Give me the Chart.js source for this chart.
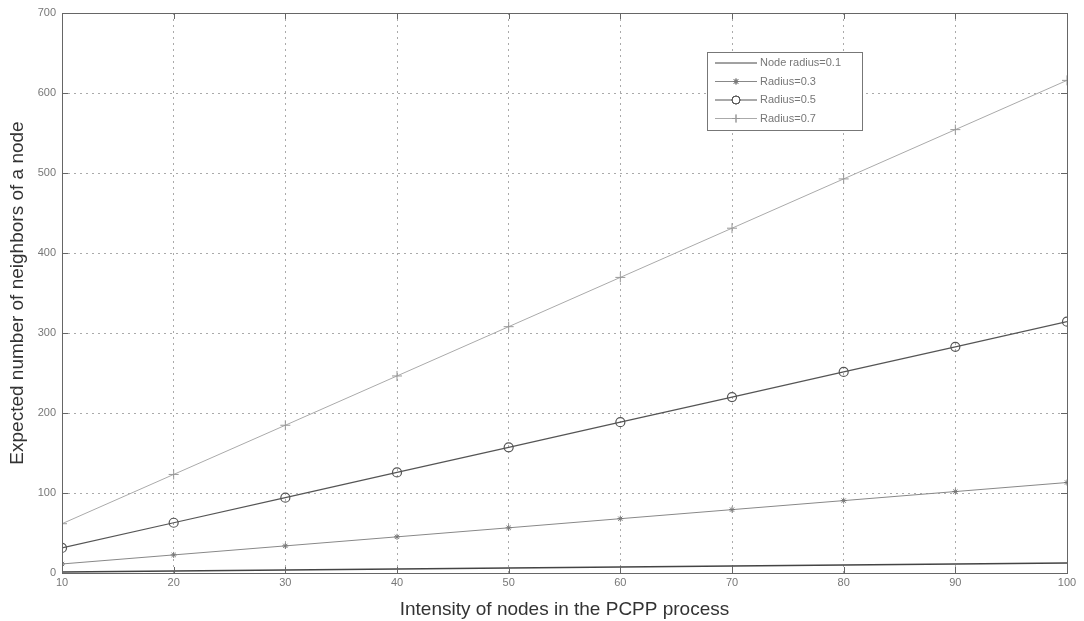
<!DOCTYPE html>
<html><head><meta charset="utf-8">
<script src="https://cdn.jsdelivr.net/npm/chart.js@4.4.1/dist/chart.umd.min.js"></script>
<style>html,body{margin:0;padding:0;background:#fff}#wrap{width:1084px;height:621px}</style>
</head><body><div id="wrap"><canvas id="c" width="1084" height="621"></canvas></div>
<script>
const intensity = [10, 20, 30, 40, 50, 60, 70, 80, 90, 100];
const radius01 = [1.3, 2.5, 3.8, 5.0, 6.3, 7.5, 8.8, 10.1, 11.3, 12.6];
const radius03 = [11.3, 22.6, 33.9, 45.2, 56.5, 67.9, 79.2, 90.5, 101.8, 113.1];
const radius05 = [31.4, 62.8, 94.2, 125.7, 157.1, 188.5, 219.9, 251.3, 282.7, 314.2];
const radius07 = [61.6, 123.2, 184.7, 246.3, 307.9, 369.5, 431.0, 492.6, 554.2, 615.8];
const seriesLabels = ['Node radius=0.1', 'Radius=0.3', 'Radius=0.5', 'Radius=0.7'];
const yTicks = [0, 100, 200, 300, 400, 500, 600, 700];
const xTitle = 'Intensity of nodes in the PCPP process';
const yTitle = 'Expected number of neighbors of a node';

const toXY = arr => arr.map((v, i) => ({x: intensity[i], y: v}));

const boxPlugin = {
  id: 'box',
  afterDraw(chart) {
    const {ctx, chartArea: a} = chart;
    ctx.save();
    ctx.strokeStyle = '#666';
    ctx.lineWidth = 1;
    ctx.strokeRect(Math.round(a.left) + 0.5, Math.round(a.top) + 0.5, Math.round(a.right - a.left), Math.round(a.bottom - a.top));
    const xs = chart.scales.x, ys = chart.scales.y;
    ctx.beginPath();
    intensity.forEach(v => {
      const px = Math.round(xs.getPixelForValue(v)) + 0.5;
      ctx.moveTo(px, a.bottom); ctx.lineTo(px, a.bottom - 6);
      ctx.moveTo(px, a.top); ctx.lineTo(px, a.top + 6);
    });
    yTicks.forEach(v => {
      const py = Math.round(ys.getPixelForValue(v)) + 0.5;
      ctx.moveTo(a.left, py); ctx.lineTo(a.left + 6, py);
      ctx.moveTo(a.right, py); ctx.lineTo(a.right - 6, py);
    });
    ctx.stroke();
    // legend
    const lx = 707, ly = 52, lw = 155, lh = 78;
    ctx.fillStyle = '#fff';
    ctx.fillRect(lx, ly, lw, lh);
    ctx.strokeStyle = '#777';
    ctx.strokeRect(lx + 0.5, ly + 0.5, lw, lh);
    ctx.font = '11px "Liberation Sans", Arial, sans-serif';
    ctx.textBaseline = 'middle';
    chart.data.datasets.forEach((ds, i) => {
      const y = ly + 11 + i * 18.5;
      ctx.strokeStyle = ds.borderColor;
      ctx.lineWidth = 1;
      ctx.beginPath(); ctx.moveTo(lx + 8, y); ctx.lineTo(lx + 50, y); ctx.stroke();
      if (ds.pointStyle && ds.pointRadius > 0) {
        ctx.beginPath();
        ctx.fillStyle = '#fff';
        ctx.strokeStyle = ds.pointBorderColor;
        Chart.helpers.drawPoint(ctx, {pointStyle: ds.pointStyle, radius: Math.min(ds.pointRadius, 4), rotation: 0, borderWidth: 1}, lx + 29, y);
        ctx.stroke();
      }
      ctx.fillStyle = '#777';
      ctx.fillText(ds.label, lx + 53, y);
    });
    ctx.restore();
  }
};

new Chart(document.getElementById('c'), {
  type: 'line',
  data: {
    datasets: [
      {label: seriesLabels[0], data: toXY(radius01), borderColor: '#444', borderWidth: 1.5, pointRadius: 0, pointStyle: false},
      {label: seriesLabels[1], data: toXY(radius03), borderColor: '#888', borderWidth: 1, pointStyle: 'star', pointRadius: 3, pointBorderColor: '#777', backgroundColor: '#888'},
      {label: seriesLabels[2], data: toXY(radius05), borderColor: '#555', borderWidth: 1.2, pointStyle: 'circle', pointRadius: 4.5, pointBorderColor: '#555', pointBackgroundColor: 'rgba(0,0,0,0)', backgroundColor: 'rgba(0,0,0,0)'},
      {label: seriesLabels[3], data: toXY(radius07), borderColor: '#aaa', borderWidth: 1, pointStyle: 'cross', pointRadius: 5, pointBorderColor: '#999', backgroundColor: '#aaa'}
    ]
  },
  options: {
    responsive: false,
    animation: false,
    layout: {padding: {left: 0, right: 17, top: 13, bottom: 0}},
    plugins: {legend: {display: false}, tooltip: {enabled: false}},
    elements: {line: {tension: 0}},
    scales: {
      x: {
        type: 'linear', min: 10, max: 100,
        afterBuildTicks: s => { s.ticks = intensity.map(v => ({value: v})); },
        afterFit: s => { s.height = 48; },
        grid: {color: '#aaa', lineWidth: 1, drawTicks: false},
        border: {display: false, dash: [2, 4]},
        ticks: {color: '#777', font: {family: '"Liberation Sans", Arial, sans-serif', size: 11}, padding: 3, maxRotation: 0},
        title: {display: true, text: xTitle, color: '#333', font: {family: '"Liberation Sans", Arial, sans-serif', size: 19}, padding: {top: 0, bottom: 0}}
      },
      y: {
        type: 'linear', min: 0, max: 700,
        afterBuildTicks: s => { s.ticks = yTicks.map(v => ({value: v})); },
        afterFit: s => { s.width = 62; },
        grid: {color: '#aaa', lineWidth: 1, drawTicks: false},
        border: {display: false, dash: [2, 4]},
        ticks: {color: '#777', font: {family: '"Liberation Sans", Arial, sans-serif', size: 11}, padding: 6},
        title: {display: true, text: yTitle, color: '#333', font: {family: '"Liberation Sans", Arial, sans-serif', size: 19}, padding: {top: 6, bottom: 0}}
      }
    }
  },
  plugins: [boxPlugin]
});
</script></body></html>
